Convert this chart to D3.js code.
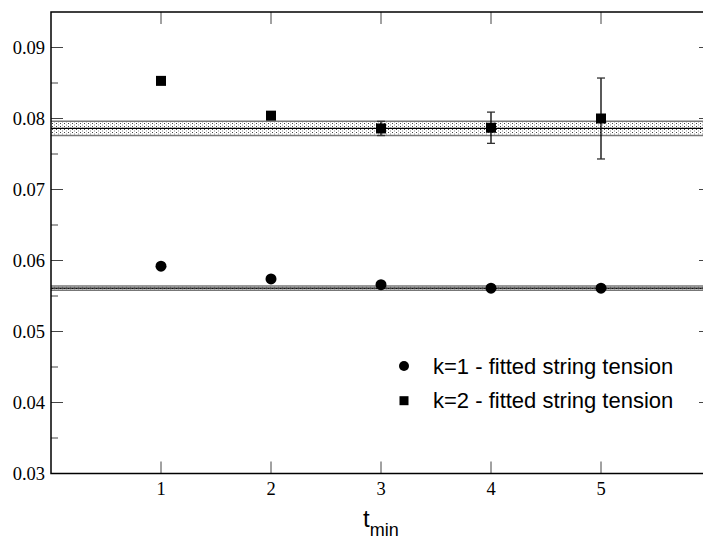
<!DOCTYPE html>
<html><head><meta charset="utf-8">
<script src="https://cdn.jsdelivr.net/npm/d3@7"></script>
<style>html,body{margin:0;padding:0;background:#fff;overflow:hidden}</style>
</head><body><svg id="c" width="703" height="540"></svg>
<script>
const tmin = [1, 2, 3, 4, 5];
const k1Values = [0.0592, 0.0574, 0.0566, 0.0561, 0.0561];
const k1Errors = [0.0002, 0.0002, 0.0002, 0.0002, 0.0002];
const k2Values = [0.0853, 0.0804, 0.0786, 0.0787, 0.0800];
const k2Errors = [0.0002, 0.0004, 0.0010, 0.0022, 0.0057];
const k1Band = [0.0561, 0.0003];
const k2Band = [0.0786, 0.0010];
const xTicks = [1, 2, 3, 4, 5];
const yTicks = [0.03, 0.04, 0.05, 0.06, 0.07, 0.08, 0.09];
const yMinorTicks = [0.035, 0.045, 0.055, 0.065, 0.075, 0.085];
const legendLabels = ["k=1 - fitted string tension", "k=2 - fitted string tension"];
const xLabel = "t", xSub = "min";

const L = 51, T = 12, R = 711, B = 473.5;
const svg = d3.select("#c");
const x = d3.scaleLinear().domain([0, 6]).range([L, R]);
const y = d3.scaleLinear().domain([0.03, 0.095]).range([B, T]);

const defs = svg.append("defs");
const pat = defs.append("pattern").attr("id", "dots").attr("patternUnits", "userSpaceOnUse")
  .attr("width", 4).attr("height", 3);
pat.append("rect").attr("width", 4).attr("height", 3).attr("fill", "#fff");
pat.append("rect").attr("x", 0).attr("y", 0).attr("width", 1).attr("height", 1).attr("fill", "#444");
pat.append("rect").attr("x", 2).attr("y", 1.5).attr("width", 1).attr("height", 1).attr("fill", "#888");

// bands
[k1Band, k2Band].forEach(b => {
  const g = svg.append("g");
  g.append("rect").attr("x", L).attr("width", R - L)
    .attr("y", y(b[0] + b[1])).attr("height", y(b[0] - b[1]) - y(b[0] + b[1]))
    .attr("fill", "url(#dots)");
  [b[0] + b[1], b[0] - b[1]].forEach(v => g.append("line").attr("x1", L).attr("x2", R)
    .attr("y1", y(v)).attr("y2", y(v)).attr("stroke", "#777").attr("stroke-width", 1.5));
  g.append("line").attr("x1", L).attr("x2", R).attr("y1", y(b[0])).attr("y2", y(b[0]))
    .attr("stroke", "#000").attr("stroke-width", 1.2);
});

// axes ticks
const tickCol = "#444";
const ax = svg.append("g");
yTicks.forEach(v => {
  ax.append("line").attr("x1", L).attr("x2", L + 12).attr("y1", y(v)).attr("y2", y(v)).attr("stroke", tickCol);
  ax.append("line").attr("x1", R).attr("x2", R - 12).attr("y1", y(v)).attr("y2", y(v)).attr("stroke", tickCol);
  ax.append("text").attr("x", 45).attr("y", y(v) + 6).attr("text-anchor", "end")
    .attr("font-family", "'Liberation Serif','Times New Roman',serif").attr("font-size", 18.5)
    .text(d3.format(".2f")(v));
});
yMinorTicks.forEach(v => {
  ax.append("line").attr("x1", L).attr("x2", L + 7).attr("y1", y(v)).attr("y2", y(v)).attr("stroke", tickCol);
  ax.append("line").attr("x1", R).attr("x2", R - 7).attr("y1", y(v)).attr("y2", y(v)).attr("stroke", tickCol);
});
xTicks.forEach(v => {
  ax.append("line").attr("x1", x(v)).attr("x2", x(v)).attr("y1", B).attr("y2", B - 12).attr("stroke", tickCol);
  ax.append("line").attr("x1", x(v)).attr("x2", x(v)).attr("y1", T).attr("y2", T + 12).attr("stroke", tickCol);
  ax.append("text").attr("x", x(v)).attr("y", B + 21).attr("text-anchor", "middle")
    .attr("font-family", "'Liberation Serif','Times New Roman',serif").attr("font-size", 18.5)
    .text(v);
});

// frame
svg.append("rect").attr("x", L).attr("y", T).attr("width", R - L).attr("height", B - T)
  .attr("fill", "none").attr("stroke", "#000").attr("stroke-width", 1.5);

// error bars
function errBars(vals, errs) {
  vals.forEach((v, i) => {
    const e = errs[i], cx = x(tmin[i]);
    const g = svg.append("g").attr("stroke", "#000").attr("stroke-width", 1.3);
    g.append("line").attr("x1", cx).attr("x2", cx).attr("y1", y(v + e)).attr("y2", y(v - e));
    [v + e, v - e].forEach(w => g.append("line").attr("x1", cx - 4).attr("x2", cx + 4)
      .attr("y1", y(w)).attr("y2", y(w)).attr("stroke", "#333"));
  });
}
errBars(k1Values, k1Errors);
errBars(k2Values, k2Errors);

// markers
svg.append("g").selectAll("circle").data(k1Values).join("circle")
  .attr("cx", (d, i) => x(tmin[i])).attr("cy", d => y(d)).attr("r", 5.5).attr("fill", "#000");
svg.append("g").selectAll("rect").data(k2Values).join("rect")
  .attr("x", (d, i) => x(tmin[i]) - 5).attr("y", d => y(d) - 5)
  .attr("width", 10).attr("height", 10).attr("fill", "#000");

// legend
const lg = svg.append("g").attr("font-family", "'Liberation Sans',Arial,sans-serif").attr("font-size", 22);
lg.append("circle").attr("cx", 404).attr("cy", 366).attr("r", 5).attr("fill", "#000");
lg.append("text").attr("x", 433).attr("y", 373.5).text(legendLabels[0]);
lg.append("rect").attr("x", 399.5).attr("y", 396.2).attr("width", 9).attr("height", 9).attr("fill", "#000");
lg.append("text").attr("x", 433).attr("y", 407.5).text(legendLabels[1]);

// x label
const xl = svg.append("text").attr("x", 363).attr("y", 527)
  .attr("font-family", "'Liberation Sans',Arial,sans-serif").attr("font-size", 24);
xl.append("tspan").text(xLabel);
xl.append("tspan").attr("font-size", 18).attr("dy", 9).text(xSub);
</script></body></html>
